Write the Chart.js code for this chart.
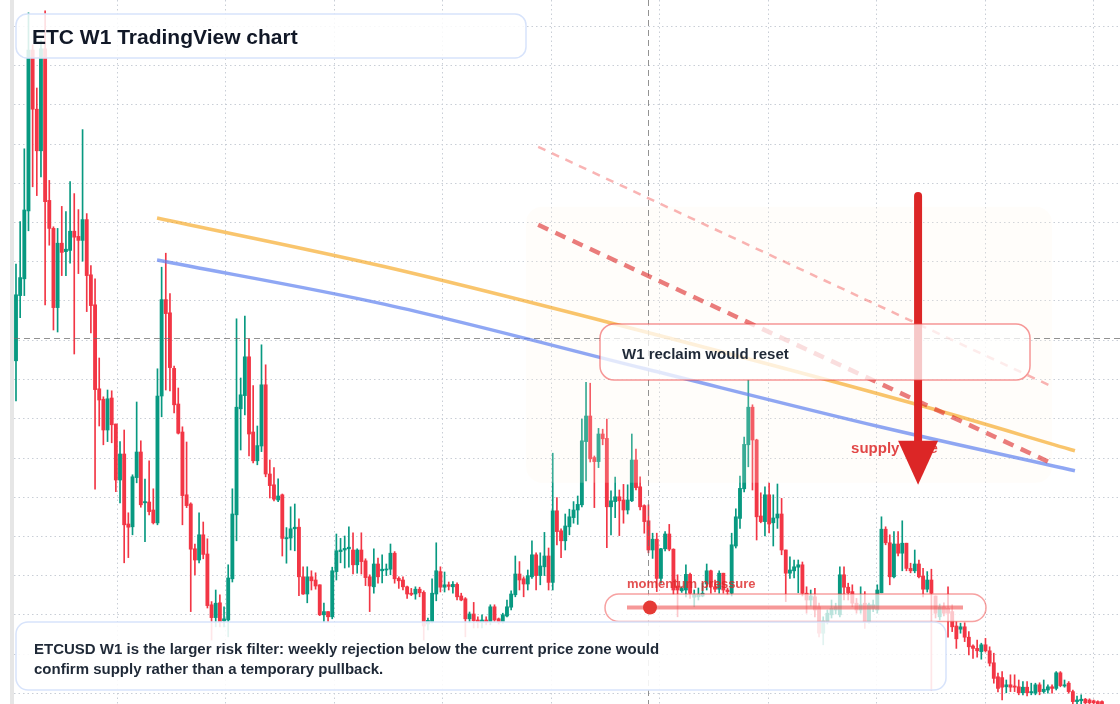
<!DOCTYPE html>
<html>
<head>
<meta charset="utf-8">
<title>ETC W1 TradingView chart</title>
<script src="https://cdn.jsdelivr.net/npm/chart.js@4.4.1/dist/chart.umd.min.js"></script>
<style>
  html, body { margin: 0; padding: 0; background: #ffffff; }
  #wrap { position: relative; width: 1120px; height: 704px; }
</style>
</head>
<body>
<div id="wrap"><canvas id="etcChart" width="1120" height="704"></canvas></div>
<script>
// weekly ETC candles, index = week number
const opens = [95.8,112.1,116.3,133.3,173.5,158.7,148.3,173.8,135.9,128.9,109.1,125.2,123.1,123.4,128.2,126.9,125.9,131.1,117.3,109.8,
  88.8,86.2,78.5,86.5,80.0,66.0,72.5,55.0,54.3,66.6,73.0,60.3,60.5,58.5,55.3,87.0,111.1,107.8,93.9,85.0,
  78.0,62.3,60.0,48.8,46.0,52.3,47.5,34.8,31.6,35.3,30.8,31.0,41.3,57.3,83.8,87.1,96.8,78.0,70.8,74.5,
  89.8,67.5,64.8,61.0,62.3,51.3,51.5,53.8,54.2,41.8,37.5,41.8,41.0,39.8,32.3,33.1,31.8,43.1,48.1,48.5,
  48.8,48.5,44.8,48.5,45.8,41.8,39.3,45.0,43.3,43.5,43.7,47.7,41.4,41.0,39.3,37.7,37.5,38.7,37.9,30.0,
  30.6,37.5,43.1,39.2,39.8,39.3,39.9,37.0,36.3,31.3,32.5,31.0,30.5,31.0,30.6,34.3,31.3,30.6,32.0,34.2,
  37.3,42.5,41.3,40.0,41.8,47.3,42.1,44.3,47.0,40.4,58.3,53.3,50.8,54.3,56.6,58.5,59.8,75.6,82.0,71.6,
  70.6,77.5,76.4,59.3,60.6,61.8,61.0,58.5,60.8,71.0,64.3,59.6,55.8,48.5,51.2,41.4,48.8,52.5,48.7,39.5,
  38.3,38.5,42.4,36.7,36.8,37.0,40.0,43.3,39.3,38.7,42.7,38.5,37.7,49.5,56.4,63.8,74.8,84.2,76.0,57.0,
  55.6,62.3,55.3,56.5,57.5,48.5,42.7,43.3,44.2,44.8,37.7,36.0,36.8,34.3,27.7,30.6,32.3,33.5,32.3,42.3,
  39.2,38.1,35.2,33.5,35.2,30.6,33.9,33.5,37.8,53.7,50.3,41.8,50.0,47.7,50.2,43.9,43.3,45.0,42.0,38.7,
  41.0,37.0,31.8,34.3,33.9,33.1,29.5,28.7,29.3,26.7,24.5,23.9,23.1,24.8,23.3,20.3,16.8,16.6,14.3,14.8,
  14.5,14.3,12.8,14.2,12.8,12.7,14.8,13.1,13.5,14.3,13.9,17.8,14.5,15.2,13.1,10.6,10.8,11.2,11.0,10.8,
  10.6,10.6];
const highs = [120.0,130.6,148.8,182.8,174.8,164.0,176.0,183.3,140.9,129.3,128.9,134.4,133.1,140.6,137.6,133.6,153.6,132.6,119.6,116.3,
  96.5,86.8,88.5,88.3,80.0,75.6,78.5,57.8,67.3,85.5,75.8,66.2,70.8,63.8,93.8,119.2,122.7,112.6,94.5,89.0,
  79.3,75.5,60.3,50.0,57.8,55.5,51.3,35.6,38.5,37.3,34.3,44.8,63.8,106.3,91.5,107.0,101.3,89.6,79.5,99.8,
  94.8,71.0,69.1,66.3,62.5,54.1,59.3,60.0,56.3,44.3,44.3,43.3,42.8,39.8,35.2,33.1,44.2,52.5,51.4,52.0,
  54.3,52.8,48.8,52.8,46.3,42.3,48.8,46.5,47.3,45.0,50.0,48.1,41.8,41.8,39.5,38.9,39.3,39.2,38.3,31.5,
  41.3,50.3,44.3,43.0,40.5,40.6,40.3,37.7,36.6,33.0,35.4,31.8,32.3,31.8,34.8,34.8,31.5,32.7,36.0,38.3,
  47.0,45.6,41.8,43.5,50.8,47.8,47.8,52.9,49.0,72.7,61.6,53.8,57.5,58.7,60.6,62.0,81.2,90.4,90.2,72.0,
  78.9,78.7,81.2,63.3,66.7,63.5,64.9,64.8,77.5,73.7,66.8,59.8,59.8,52.7,52.7,48.9,53.1,54.9,48.8,42.3,
  39.3,44.8,42.7,38.5,39.0,40.2,45.0,43.5,41.0,43.3,42.7,39.0,52.7,58.8,67.0,76.7,91.0,84.8,76.2,62.8,
  64.3,65.2,62.3,65.0,61.4,48.5,46.8,46.0,46.0,45.5,39.3,38.5,38.9,35.2,31.8,33.5,36.0,35.2,44.3,44.3,
  40.2,39.8,36.4,39.3,38.1,35.2,36.0,39.8,56.8,54.3,52.3,53.1,53.1,55.8,50.2,45.2,48.5,46.0,43.9,43.1,
  43.7,37.0,35.0,35.3,39.3,34.8,30.6,30.2,30.3,28.1,24.8,26.0,25.2,26.4,24.3,22.7,17.7,18.1,16.0,17.3,
  17.3,16.0,15.6,15.6,15.2,15.2,15.3,16.0,14.8,14.8,18.1,18.1,16.0,15.6,13.5,12.0,12.3,11.4,11.3,11.0,
  10.8,10.8];
const lows = [85.8,106.6,112.1,128.3,139.3,137.1,141.8,109.8,124.7,103.5,103.0,117.1,117.1,120.2,97.5,117.6,120.7,108.1,102.8,63.7,
  79.5,74.8,75.6,75.3,63.1,60.3,45.3,46.6,52.3,65.3,59.2,50.6,57.3,55.0,54.8,81.8,88.5,88.3,82.8,77.5,
  54.8,59.1,33.1,42.3,45.3,46.3,34.0,26.0,29.3,29.3,29.3,26.8,40.5,50.8,73.5,82.3,72.0,70.3,69.8,73.1,
  66.8,61.5,60.8,60.6,47.0,45.2,48.5,48.3,37.1,37.4,35.3,38.5,38.7,32.1,30.6,30.6,31.3,41.0,45.3,44.0,
  44.2,42.5,42.7,42.5,39.6,33.1,37.7,40.2,40.3,42.1,42.3,40.2,38.9,38.5,36.4,37.1,36.2,36.8,26.0,28.5,
  30.3,35.8,38.0,38.0,38.5,37.7,36.0,35.8,26.8,30.3,29.0,29.0,29.0,29.8,29.8,30.6,30.0,30.2,31.8,33.5,
  36.8,38.5,36.8,38.5,41.4,38.5,39.8,42.1,38.5,38.5,49.8,46.6,48.5,52.3,55.2,54.9,59.3,65.8,70.5,59.1,
  69.1,74.8,49.1,52.3,56.6,52.1,55.2,57.5,60.6,63.5,58.5,52.7,47.8,46.4,38.1,40.2,48.3,48.3,37.4,31.8,
  37.9,36.8,36.4,34.3,36.0,36.8,38.5,37.7,38.0,37.7,37.7,37.3,37.0,49.0,53.9,63.0,69.3,63.5,51.0,55.3,
  52.0,52.8,49.5,53.9,47.3,35.6,41.4,41.5,37.8,37.0,32.7,34.5,31.8,26.8,24.8,30.0,31.5,32.5,31.8,36.0,
  36.0,34.3,32.7,32.7,28.9,30.2,33.1,32.7,37.8,49.8,39.8,41.5,47.0,43.3,43.3,42.8,42.8,41.5,36.8,38.0,
  13.5,31.5,31.0,32.0,26.7,28.1,23.9,27.7,25.6,22.3,21.4,21.7,21.2,23.0,19.5,15.2,13.0,11.0,12.8,13.1,
  13.1,12.3,12.3,12.0,12.3,12.3,12.3,12.7,12.7,12.7,13.5,14.3,14.2,12.7,10.0,10.0,10.0,10.0,10.0,10.0,
  9.8,9.8];
const closes = [112.3,116.6,133.5,173.5,158.7,148.3,173.8,135.6,128.9,109.1,125.2,122.9,123.7,128.2,126.7,125.9,131.1,117.1,109.6,88.6,
  86.0,78.5,86.3,79.8,66.0,72.5,54.8,54.2,66.8,73.0,59.8,60.6,58.1,55.3,87.0,111.1,107.6,94.1,84.8,77.7,
  62.1,59.6,48.7,46.0,52.3,47.4,34.6,31.6,35.2,30.6,31.3,41.5,57.5,84.2,87.3,96.8,77.5,70.8,74.6,89.8,
  67.5,64.6,61.2,62.0,51.4,51.6,53.8,54.2,41.8,37.5,41.8,40.8,39.5,32.3,33.1,31.8,43.3,48.3,48.5,48.9,
  49.2,44.8,48.5,45.6,41.6,39.5,45.0,41.8,43.7,43.7,47.7,41.3,40.8,39.3,37.5,37.4,38.7,37.8,29.5,30.9,
  37.7,43.3,39.2,39.8,39.4,39.9,36.8,36.0,31.3,32.5,30.8,30.5,31.0,30.5,34.3,31.0,30.5,32.3,34.3,37.5,
  42.5,41.0,40.0,42.1,47.3,42.1,44.5,47.0,40.4,58.3,53.1,50.8,54.5,56.8,58.5,59.9,75.8,82.0,71.3,70.6,
  77.5,76.3,59.3,60.8,61.8,60.8,58.5,61.0,71.0,64.1,59.3,55.6,48.5,51.2,41.4,48.8,52.5,48.7,38.5,38.5,
  38.9,42.4,37.7,37.3,37.4,37.7,43.3,39.3,38.7,42.7,38.5,38.1,49.8,56.8,63.9,74.9,84.2,76.0,56.8,55.6,
  62.3,55.0,56.5,57.5,48.5,42.7,43.5,44.3,44.8,37.7,36.0,37.0,33.5,27.7,30.8,32.7,33.9,34.3,42.3,39.2,
  37.8,35.2,33.5,34.8,30.6,34.8,34.8,38.5,53.7,50.3,41.8,50.0,47.7,50.2,43.9,43.3,45.0,41.8,38.7,41.0,
  37.7,32.7,34.2,32.7,32.7,29.3,26.3,29.3,26.7,24.3,23.9,23.3,24.8,23.3,20.2,16.4,13.9,14.2,14.8,14.2,
  14.2,12.8,14.2,12.8,13.1,14.8,13.1,13.7,14.3,13.9,17.8,14.6,14.8,13.1,10.6,11.0,11.2,10.3,10.3,10.3,
  10.0,10.0];

// grid ticks (price levels and half-year week marks)
const priceGrid = [179.5, 169.7, 159.9, 150.0, 140.2, 130.4, 120.6, 110.8, 101.0, 91.2, 81.3, 71.5, 61.7, 51.9, 42.1, 32.3, 22.5, 12.7];
const weekGrid = [24.3, 50.4, 76.5, 102.5, 128.6, 154.7, 180.8, 206.9, 232.9, 259.0];

// trend lines
const orangeWeeks = [33.9, 88.7, 143.2, 216.8, 254.5];
const orangePrices = [131.5, 119.3, 105.2, 84.8, 73.3];
const blueWeeks = [33.9, 88.7, 151.2, 207.6, 254.5];
const bluePrices = [121.0, 109.9, 93.8, 79.3, 68.3];
const upperDashWeeks = [125.5, 248.7];
const upperDashPrices = [149.3, 89.5];
const lowerDashWeeks = [125.5, 249.7];
const lowerDashPrices = [129.8, 69.8];

// supply zone, arrow and crosshair (data units)
const zoneWeeks = [122.6, 249.0];
const zonePrices = [134.3, 65.3];
const arrowWeek = 216.8;
const arrowPrices = [137.0, 64.8];
const labelWeek = 200.7;
const labelPrice = 72.8;
const crossWeek = 152;
const crossPrice = 101.5;

const GREEN = '#089981';
const RED = '#f23645';
const FONT = '"Liberation Sans", Arial, Helvetica, sans-serif';

const weeks = opens.map((_, i) => i);
const candleColors = weeks.map(i => closes[i] >= opens[i] ? GREEN : RED);
const toPoints = (xs, ys) => xs.map((x, i) => ({ x: x, y: ys[i] }));

function roundRect(ctx, x, y, w, h, r) {
  ctx.beginPath();
  ctx.moveTo(x + r, y);
  ctx.lineTo(x + w - r, y);
  ctx.arcTo(x + w, y, x + w, y + r, r);
  ctx.lineTo(x + w, y + h - r);
  ctx.arcTo(x + w, y + h, x + w - r, y + h, r);
  ctx.lineTo(x + r, y + h);
  ctx.arcTo(x, y + h, x, y + h - r, r);
  ctx.lineTo(x, y + r);
  ctx.arcTo(x, y, x + r, y, r);
  ctx.closePath();
}

function panel(ctx, x, y, w, h, r, fill, stroke) {
  roundRect(ctx, x, y, w, h, r);
  ctx.fillStyle = fill;
  ctx.fill();
  ctx.lineWidth = 1.5;
  ctx.strokeStyle = stroke;
  ctx.stroke();
}

const overlay = {
  id: 'overlay',
  beforeDraw(chart) {
    const ctx = chart.ctx;
    ctx.save();
    ctx.fillStyle = '#e6e6e6';
    ctx.fillRect(10, 0, 4, chart.height);
    ctx.restore();
  },
  afterDatasetDraw(chart, args) {
    if (chart.data.datasets[args.index].label !== 'bodies') return;
    const ctx = chart.ctx, xs = chart.scales.x, ys = chart.scales.y, area = chart.chartArea;
    ctx.save();
    // supply zone
    const zx1 = xs.getPixelForValue(zoneWeeks[0]), zx2 = xs.getPixelForValue(zoneWeeks[1]);
    const zy1 = ys.getPixelForValue(zonePrices[0]), zy2 = ys.getPixelForValue(zonePrices[1]);
    roundRect(ctx, zx1, zy1, zx2 - zx1, zy2 - zy1, 16);
    ctx.fillStyle = 'rgba(255,244,232,0.2)';
    ctx.fill();
    // crosshair
    ctx.setLineDash([6, 4]);
    ctx.lineWidth = 1;
    ctx.strokeStyle = 'rgba(110,110,110,0.75)';
    const cx = Math.round(xs.getPixelForValue(crossWeek)) + 0.5;
    const cy = Math.round(ys.getPixelForValue(crossPrice)) + 0.5;
    ctx.beginPath();
    ctx.moveTo(cx, area.top); ctx.lineTo(cx, area.bottom);
    ctx.moveTo(area.left, cy); ctx.lineTo(area.right, cy);
    ctx.stroke();
    ctx.restore();
  },
  afterDatasetsDraw(chart) {
    const ctx = chart.ctx, xs = chart.scales.x, ys = chart.scales.y;
    ctx.save();

    // supply zone label
    ctx.font = 'bold 15px ' + FONT;
    ctx.fillStyle = 'rgba(220,38,38,0.85)';
    ctx.textBaseline = 'alphabetic';
    ctx.fillText('supply zone', xs.getPixelForValue(labelWeek), ys.getPixelForValue(labelPrice));

    // down arrow
    const ax = xs.getPixelForValue(arrowWeek);
    const aTop = ys.getPixelForValue(arrowPrices[0]);
    const aTip = ys.getPixelForValue(arrowPrices[1]);
    ctx.strokeStyle = '#dc2626';
    ctx.fillStyle = '#dc2626';
    ctx.lineWidth = 8;
    ctx.lineCap = 'round';
    ctx.beginPath();
    ctx.moveTo(ax, aTop);
    ctx.lineTo(ax, aTip - 40);
    ctx.stroke();
    ctx.beginPath();
    ctx.moveTo(ax - 20, aTip - 44);
    ctx.lineTo(ax + 20, aTip - 44);
    ctx.lineTo(ax, aTip);
    ctx.closePath();
    ctx.fill();

    // reclaim box
    panel(ctx, 600, 324, 430, 56, 14, 'rgba(255,255,255,0.75)', 'rgba(239,68,68,0.55)');
    ctx.fillStyle = '#1f2937';
    ctx.font = 'bold 15px ' + FONT;
    ctx.fillText('W1 reclaim would reset', 622, 359);

    // momentum pressure
    ctx.font = 'bold 13px ' + FONT;
    ctx.fillStyle = 'rgba(220,38,38,0.8)';
    ctx.fillText('momentum pressure', 627, 587.5);
    panel(ctx, 605, 594, 381, 27.5, 13.75, 'rgba(255,255,255,0.72)', 'rgba(239,68,68,0.5)');
    ctx.lineCap = 'butt';
    ctx.lineWidth = 4;
    ctx.strokeStyle = 'rgba(239,68,68,0.55)';
    ctx.beginPath();
    ctx.moveTo(627, 607.5); ctx.lineTo(963, 607.5);
    ctx.stroke();
    ctx.beginPath();
    ctx.arc(650, 607.5, 7, 0, Math.PI * 2);
    ctx.fillStyle = '#e53935';
    ctx.fill();

    // title
    panel(ctx, 16, 14, 510, 44, 11, 'rgba(255,255,255,0.85)', '#d7e3fb');
    ctx.fillStyle = '#111827';
    ctx.font = 'bold 21px ' + FONT;
    ctx.fillText('ETC W1 TradingView chart', 32, 43.5);

    // note
    panel(ctx, 16, 622, 930, 68, 12, 'rgba(255,255,255,0.88)', '#d7e3fb');
    ctx.fillStyle = '#1f2937';
    ctx.font = 'bold 15px ' + FONT;
    ctx.fillText('ETCUSD W1 is the larger risk filter: weekly rejection below the current price zone would', 34, 654);
    ctx.fillText('confirm supply rather than a temporary pullback.', 34, 674);
    ctx.restore();
  }
};

const ctx = document.getElementById('etcChart').getContext('2d');
const chart = new Chart(ctx, {
  type: 'bar',
  data: {
    datasets: [
      {
        type: 'line', label: 'upper dash', data: toPoints(upperDashWeeks, upperDashPrices),
        borderColor: 'rgba(239,68,68,0.4)', borderWidth: 2.5, borderDash: [8, 7],
        pointRadius: 0, order: 1
      },
      {
        type: 'line', label: 'lower dash', data: toPoints(lowerDashWeeks, lowerDashPrices),
        borderColor: 'rgba(220,38,38,0.6)', borderWidth: 4.5, borderDash: [11, 8],
        pointRadius: 0, order: 2
      },
      {
        type: 'line', label: 'orange trend', data: toPoints(orangeWeeks, orangePrices),
        borderColor: 'rgba(245,158,11,0.6)', borderWidth: 3.5, cubicInterpolationMode: 'monotone',
        pointRadius: 0, order: 3
      },
      {
        type: 'line', label: 'blue trend', data: toPoints(blueWeeks, bluePrices),
        borderColor: 'rgba(96,130,240,0.7)', borderWidth: 3.5, cubicInterpolationMode: 'monotone',
        pointRadius: 0, order: 4
      },
      {
        label: 'bodies', data: weeks.map(i => ({ x: i, y: [opens[i], closes[i]] })),
        backgroundColor: candleColors, barThickness: 3.2, minBarLength: 1,
        stack: 'candle', order: 8
      },
      {
        label: 'wicks', data: weeks.map(i => ({ x: i, y: [lows[i], highs[i]] })),
        backgroundColor: candleColors, barThickness: 1, minBarLength: 1,
        stack: 'candle', order: 9
      }
    ]
  },
  options: {
    responsive: false,
    animation: false,
    devicePixelRatio: 1,
    layout: { padding: { left: 14, right: 0, top: 0, bottom: 0 } },
    plugins: { legend: { display: false }, tooltip: { enabled: false } },
    scales: {
      x: {
        type: 'linear', min: -0.48, max: 265.33, offset: false,
        ticks: { display: false },
        grid: { offset: false, drawTicks: false, color: '#c9ced6', lineWidth: 1 },
        border: { display: false, dash: [1.5, 3] },
        afterBuildTicks: (scale) => { scale.ticks = weekGrid.map(v => ({ value: v })); },
        afterFit: (scale) => { scale.height = 0; }
      },
      y: {
        type: 'linear', min: 10, max: 186, stacked: false,
        ticks: { display: false },
        grid: { drawTicks: false, color: '#c9ced6', lineWidth: 1 },
        border: { display: false, dash: [1.5, 3] },
        afterBuildTicks: (scale) => { scale.ticks = priceGrid.map(v => ({ value: v })); },
        afterFit: (scale) => { scale.width = 0; }
      }
    }
  },
  plugins: [overlay]
});
</script>
</body>
</html>
